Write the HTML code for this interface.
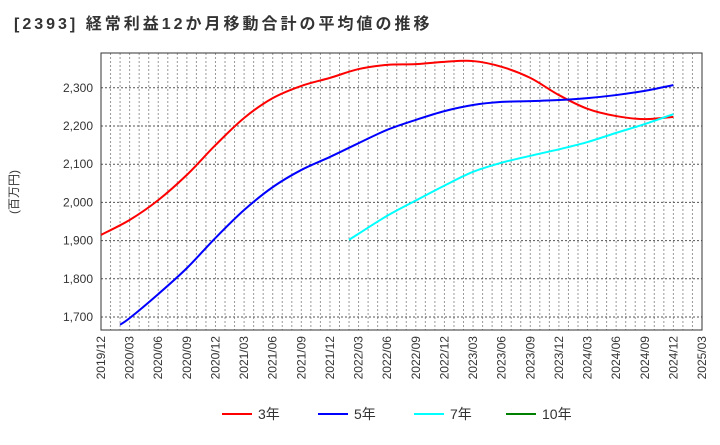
<!DOCTYPE html>
<html><head><meta charset="utf-8"><style>
body{margin:0;background:#fff;}
svg text{font-family:"Liberation Sans","Noto Sans CJK JP",sans-serif;}
</style></head><body>
<svg id="chart" width="720" height="440">
<text x="14" y="29" font-size="16" font-weight="bold" letter-spacing="3" fill="#333">[2393]  経常利益12か月移動合計の平均値の推移</text>
<text transform="translate(18,192) rotate(-90)" text-anchor="middle" font-size="12" fill="#333">(百万円)</text>
<g id="grid"></g><g id="axes"></g><g id="series"></g><g id="legend"></g>
</svg>
<script>
const xLabels=["2019/12","2020/03","2020/06","2020/09","2020/12","2021/03","2021/06","2021/09","2021/12","2022/03","2022/06","2022/09","2022/12","2023/03","2023/06","2023/09","2023/12","2024/03","2024/06","2024/09","2024/12","2025/03"];
const yTicks=[1700,1800,1900,2000,2100,2200,2300];
const redMonths=[0,3,6,9,12,15,18,21,24,27,30,33,36,39,42,45,48,51,54,57,60];
const red=[1915,1954,2006,2072,2150,2221,2273,2305,2326,2349,2360,2362,2368,2370,2355,2326,2281,2245,2226,2218,2224];
const blueMonths=[2,3,6,9,12,15,18,21,24,27,30,33,36,39,42,45,48,51,54,57,60];
const blue=[1680,1697,1760,1828,1907,1980,2040,2085,2119,2155,2190,2216,2239,2255,2263,2265,2268,2273,2281,2292,2307];
const cyanMonths=[26,27,30,33,36,39,42,45,48,51,54,57,60];
const cyan=[1902,1918,1965,2005,2044,2080,2104,2122,2139,2158,2182,2205,2231];
const L=101,R=702,T=53,B=330;
const x=m=>L+m*(R-L)/63;
const y=v=>317-(v-1700)*0.382;
const NS="http://www.w3.org/2000/svg";
function mk(tag,attrs,parent){const e=document.createElementNS(NS,tag);for(const k in attrs)e.setAttribute(k,attrs[k]);parent.appendChild(e);return e;}
const grid=document.getElementById('grid'),axes=document.getElementById('axes'),ser=document.getElementById('series'),leg=document.getElementById('legend');
for(let m=1;m<63;m++){const g=mk('line',{x1:x(m),x2:x(m),y1:T,y2:B,stroke:'#999','stroke-dasharray':'2,2','stroke-width':1},grid);

}
yTicks.forEach(v=>{const g=mk('line',{x1:L,x2:R,y1:y(v),y2:y(v),stroke:'#555','stroke-dasharray':'2,2','stroke-width':1},grid);


const t=mk('text',{x:L-8,y:y(v)+4,'text-anchor':'end','font-size':12,fill:'#333'},axes);t.textContent=v.toLocaleString('en-US');

});
xLabels.forEach((s,i)=>{const px=x(i*3);const t=mk('text',{transform:`translate(${px+4},${B+6}) rotate(-90)`,'text-anchor':'end','font-size':12,fill:'#333'},axes);t.textContent=s;

});
const fr=mk('rect',{x:L,y:T,width:R-L,height:B-T,fill:'none',stroke:'#333','stroke-width':1},axes);


function path(ms,vs){const p=ms.map((m,i)=>[x(m),y(vs[i])]);let d=`M${p[0][0]},${p[0][1]}`;
for(let i=0;i<p.length-1;i++){const p0=p[i-1]||p[i],p1=p[i],p2=p[i+1],p3=p[i+2]||p2;
d+=` C${p1[0]+(p2[0]-p0[0])/6},${p1[1]+(p2[1]-p0[1])/6} ${p2[0]-(p3[0]-p1[0])/6},${p2[1]-(p3[1]-p1[1])/6} ${p2[0]},${p2[1]}`;}return d;}
[[redMonths,red,'#ff0000','line-3yr'],[blueMonths,blue,'#0000ff','line-5yr'],[cyanMonths,cyan,'#00ffff','line-7yr']].forEach(s=>{
const e=mk('path',{d:path(s[0],s[1]),fill:'none',stroke:s[2],'stroke-width':2},ser);

});
[['3年','#ff0000',222],['5年','#0000ff',318],['7年','#00ffff',414],['10年','#008000',506]].forEach(l=>{
const g=mk('g',{},leg);


mk('line',{x1:l[2],x2:l[2]+30,y1:414,y2:414,stroke:l[1],'stroke-width':2},g);
const t=mk('text',{x:l[2]+36,y:419,'font-size':14,fill:'#333'},g);t.textContent=l[0];});
</script>
</body></html>
